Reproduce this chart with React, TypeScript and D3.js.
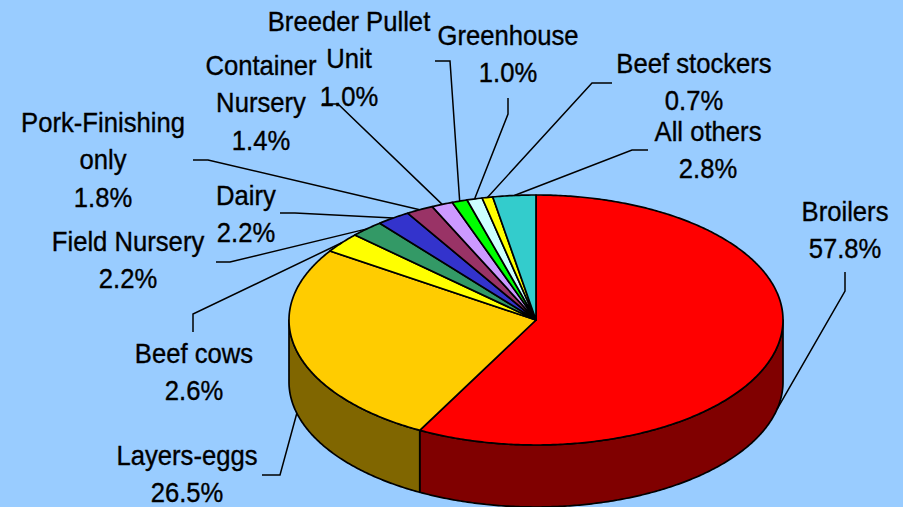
import React from "react";
import * as d3 from "d3";

const categories = ["Broilers","Layers-eggs","Beef cows","Field Nursery","Dairy","Pork-Finishing only","Container Nursery","Breeder Pullet Unit","Greenhouse","Beef stockers","All others"];
const shares = [57.8,26.5,2.6,2.2,2.2,1.8,1.4,1.0,1.0,0.7,2.8];
const topColors = ["#FF0000","#FFCC00","#FFFF00","#339966","#3333CC","#993366","#CC99FF","#00FF00","#CCFFFF","#FFFF00","#33CCCC"];
const sideColors = ["#800000","#806600"];
const labelLines = [["Broilers"],["Layers-eggs"],["Beef cows"],["Field Nursery"],["Dairy"],["Pork-Finishing","only"],["Container","Nursery"],["Breeder Pullet","Unit"],["Greenhouse"],["Beef stockers"],["All others"]];
const labelAnchors: [number,number][] = [[845,221],[187,465],[194,363],[128,251],[246,205],[103,132],[261,75],[349,31],[508,45],[694,73],[708,141]];
const leaderElbows: [number,number][][] = [[[845,291],[845,272]],[[280,475],[262,475]],[[193,314],[193,332]],[[230,262],[216,262]],[[295,213],[280,213]],[[208,160],[193,160]],[[338,104],[322,104]],[[450,61],[435,61]],[[508,114],[508,98]],[[592,83],[612,83]],[[632,150],[648,150]]];
const sideLeaderAngles = [1.79,4.46];

const W = 903, H = 507, CX = 536, CY = 320, RX = 247, RY = 125, DEPTH = 62;
const FONT = 27, SX = 0.95, LINE = 37.5;

const toXY = (a: number, dy = 0): [number, number] => [CX + RX * Math.sin(a), CY + dy - RY * Math.cos(a)];
const arcPts = (a0: number, a1: number, dy = 0) => {
  const n = Math.max(2, Math.ceil(Math.abs(a1 - a0) / 0.01));
  return d3.range(n + 1).map((i) => toXY(a0 + ((a1 - a0) * i) / n, dy));
};
const line = d3.line();

export default function App() {
  const arcs = d3.pie<number>().sort(null)(shares);
  const sides = arcs
    .map((a, i) => ({ i, a0: Math.max(a.startAngle, Math.PI / 2), a1: Math.min(a.endAngle, (3 * Math.PI) / 2) }))
    .filter((s) => s.a1 > s.a0);
  return (
    <svg width={W} height={H} viewBox={`0 0 ${W} ${H}`} style={{ position: "absolute", left: 0, top: 0, display: "block" }}>
      <rect width={W} height={H} fill="#99CCFF" />
      {sides.map((s) => (
        <path key={s.i} d={line([...arcPts(s.a0, s.a1), ...arcPts(s.a1, s.a0, DEPTH)])! + "Z"} fill={sideColors[s.i]} stroke="#000" strokeWidth={1.7} strokeLinejoin="round" />
      ))}
      {arcs.map((a, i) => (
        <path key={i} d={line([[CX, CY], ...arcPts(a.startAngle, a.endAngle)])! + "Z"} fill={topColors[i]} stroke="#000" strokeWidth={1.7} strokeLinejoin="round" />
      ))}
      {arcs.map((a, i) => {
        const mid = (a.startAngle + a.endAngle) / 2;
        const start = i < sideLeaderAngles.length ? toXY(sideLeaderAngles[i], DEPTH) : toXY(mid);
        return <path key={i} d={line([start, ...leaderElbows[i]])!} fill="none" stroke="#000" strokeWidth={1.5} />;
      })}
      {categories.map((c, i) => {
        const [x, y] = labelAnchors[i];
        const lines = [...labelLines[i], shares[i].toFixed(1) + "%"];
        return (
          <g key={c} transform={`translate(${x},${y}) scale(${SX},1)`} fontFamily="Liberation Sans, Arial, sans-serif" fontSize={FONT} textAnchor="middle" fill="#000" stroke="#000" strokeWidth={0.35}>
            {lines.map((t, j) => (
              <text key={j} y={j * LINE}>{t}</text>
            ))}
          </g>
        );
      })}
    </svg>
  );
}
